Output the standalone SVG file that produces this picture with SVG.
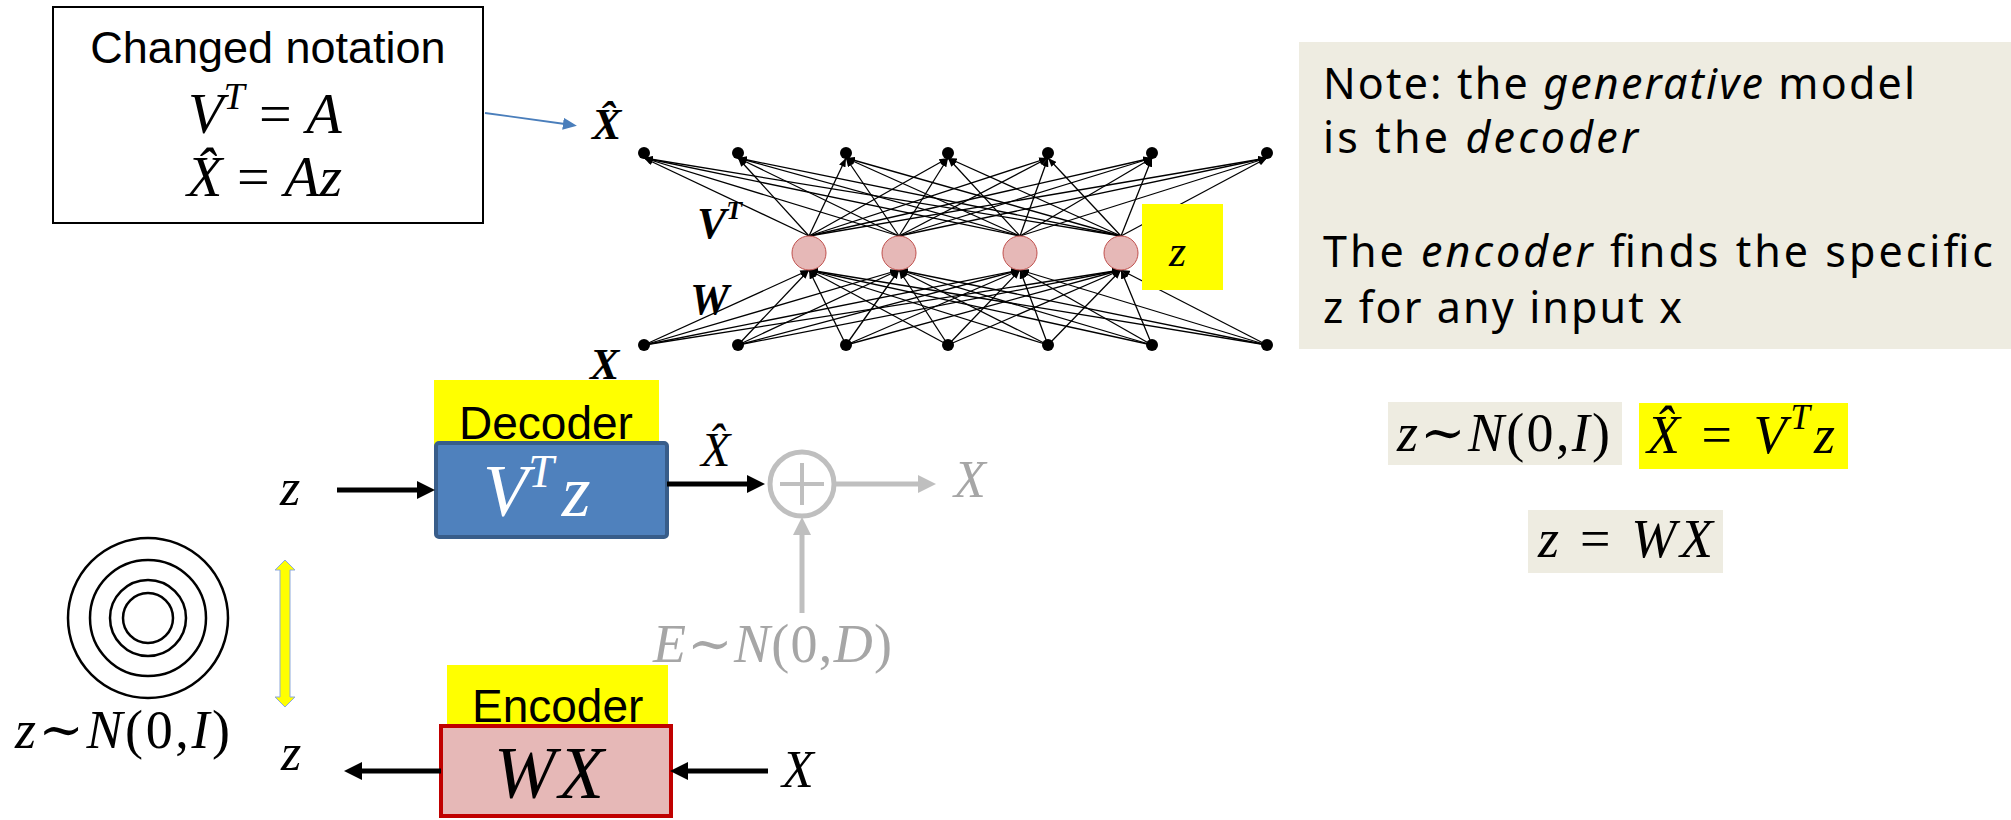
<svg xmlns="http://www.w3.org/2000/svg" width="2011" height="820" viewBox="0 0 2011 820">
<style>
.m{font-family:"Liberation Serif","DejaVu Serif",serif;font-style:italic}
.mb{font-family:"Liberation Serif","DejaVu Serif",serif;font-style:italic;font-weight:bold}
.up{font-style:normal}
.s{font-family:"Liberation Sans",Arial,sans-serif}
.n{font-family:"Noto Sans","DejaVu Sans",sans-serif;font-size:43px;fill:#000}
.net line{stroke:#000;stroke-width:1.3;marker-end:url(#sa)}
.dot{fill:#000}
.hid{fill:#e6b8b7;stroke:#c0504d;stroke-width:1}
.big{stroke:#000;stroke-width:5;marker-end:url(#ba)}
.gry{stroke:#bfbfbf;stroke-width:5;marker-end:url(#ga)}
</style>
<defs>
<marker id="sa" viewBox="0 0 10 8" refX="10" refY="4" markerWidth="9" markerHeight="7" markerUnits="userSpaceOnUse" orient="auto"><path d="M0,0 L10,4 L0,8 z" fill="#000"/></marker>
<marker id="ba" viewBox="0 0 18 18" refX="2" refY="9" markerWidth="18" markerHeight="18" markerUnits="userSpaceOnUse" orient="auto"><path d="M0,0 L18,9 L0,18 z" fill="#000"/></marker>
<marker id="ga" viewBox="0 0 18 18" refX="2" refY="9" markerWidth="18" markerHeight="18" markerUnits="userSpaceOnUse" orient="auto"><path d="M0,0 L18,9 L0,18 z" fill="#bfbfbf"/></marker>
<marker id="bl" viewBox="0 0 14 12" refX="2" refY="6" markerWidth="14" markerHeight="12" markerUnits="userSpaceOnUse" orient="auto"><path d="M0,0 L14,6 L0,12 z" fill="#4a7ebb"/></marker>
</defs>
<rect width="2011" height="820" fill="#fff"/>

<g id="notation-box">
<rect x="53" y="7" width="430" height="216" fill="#fff" stroke="#000" stroke-width="2"/>
<text class="s" x="268" y="63" font-size="45" text-anchor="middle">Changed notation</text>
<text class="m" x="188" y="133" font-size="58">V<tspan font-size="38" dy="-24">T</tspan><tspan class="up" dy="24"> = </tspan>A</text>
<text class="m" x="187" y="196" font-size="58">X&#x302;<tspan class="up"> = </tspan>Az</text>
</g>

<g id="note-box">
<rect x="1299" y="42" width="712" height="307" fill="#eeece1"/>
<text class="n" x="1323" y="99" textLength="592">Note: the <tspan font-style="italic">generative</tspan> model</text>
<text class="n" x="1323" y="153" textLength="315">is the <tspan font-style="italic">decoder</tspan></text>
<text class="n" x="1323" y="267" textLength="670">The <tspan font-style="italic">encoder</tspan> finds the specific</text>
<text class="n" x="1323" y="323" textLength="359">z for any input x</text>
</g>

<g id="eq-prior">
<rect x="1388" y="402" width="234" height="63" fill="#eeece1"/>
<text class="m" x="1397" y="451" font-size="54" textLength="213">z<tspan class="up">∼</tspan>N<tspan class="up">(0,</tspan>I<tspan class="up">)</tspan></text>
</g>
<g id="eq-decoder">
<rect x="1639" y="403" width="209" height="66" fill="#ffff00"/>
<text class="m" x="1647" y="453" font-size="54" textLength="188">X&#x302;<tspan class="up"> = </tspan>V<tspan font-size="35" dy="-24">T</tspan><tspan dy="24">z</tspan></text>
</g>
<g id="eq-encoder">
<rect x="1528" y="510" width="195" height="63" fill="#eeece1"/>
<text class="m" x="1538" y="557" font-size="54" textLength="175">z<tspan class="up"> = </tspan>WX</text>
</g>

<g id="network">
<g class="net">
<line x1="809" y1="236" x2="644" y2="158"/><line x1="809" y1="236" x2="738" y2="158"/><line x1="809" y1="236" x2="846" y2="158"/><line x1="809" y1="236" x2="948" y2="158"/><line x1="809" y1="236" x2="1048" y2="158"/><line x1="809" y1="236" x2="1152" y2="158"/><line x1="809" y1="236" x2="1267" y2="158"/>
<line x1="899" y1="236" x2="644" y2="158"/><line x1="899" y1="236" x2="738" y2="158"/><line x1="899" y1="236" x2="846" y2="158"/><line x1="899" y1="236" x2="948" y2="158"/><line x1="899" y1="236" x2="1048" y2="158"/><line x1="899" y1="236" x2="1152" y2="158"/><line x1="899" y1="236" x2="1267" y2="158"/>
<line x1="1020" y1="236" x2="644" y2="158"/><line x1="1020" y1="236" x2="738" y2="158"/><line x1="1020" y1="236" x2="846" y2="158"/><line x1="1020" y1="236" x2="948" y2="158"/><line x1="1020" y1="236" x2="1048" y2="158"/><line x1="1020" y1="236" x2="1152" y2="158"/><line x1="1020" y1="236" x2="1267" y2="158"/>
<line x1="1121" y1="236" x2="644" y2="158"/><line x1="1121" y1="236" x2="738" y2="158"/><line x1="1121" y1="236" x2="846" y2="158"/><line x1="1121" y1="236" x2="948" y2="158"/><line x1="1121" y1="236" x2="1048" y2="158"/><line x1="1121" y1="236" x2="1152" y2="158"/><line x1="1121" y1="236" x2="1267" y2="158"/>
<line x1="644" y1="345" x2="809" y2="270"/><line x1="738" y1="345" x2="809" y2="270"/><line x1="846" y1="345" x2="809" y2="270"/><line x1="948" y1="345" x2="809" y2="270"/><line x1="1048" y1="345" x2="809" y2="270"/><line x1="1152" y1="345" x2="809" y2="270"/><line x1="1267" y1="345" x2="809" y2="270"/>
<line x1="644" y1="345" x2="899" y2="270"/><line x1="738" y1="345" x2="899" y2="270"/><line x1="846" y1="345" x2="899" y2="270"/><line x1="948" y1="345" x2="899" y2="270"/><line x1="1048" y1="345" x2="899" y2="270"/><line x1="1152" y1="345" x2="899" y2="270"/><line x1="1267" y1="345" x2="899" y2="270"/>
<line x1="644" y1="345" x2="1020" y2="270"/><line x1="738" y1="345" x2="1020" y2="270"/><line x1="846" y1="345" x2="1020" y2="270"/><line x1="948" y1="345" x2="1020" y2="270"/><line x1="1048" y1="345" x2="1020" y2="270"/><line x1="1152" y1="345" x2="1020" y2="270"/><line x1="1267" y1="345" x2="1020" y2="270"/>
<line x1="644" y1="345" x2="1121" y2="270"/><line x1="738" y1="345" x2="1121" y2="270"/><line x1="846" y1="345" x2="1121" y2="270"/><line x1="948" y1="345" x2="1121" y2="270"/><line x1="1048" y1="345" x2="1121" y2="270"/><line x1="1152" y1="345" x2="1121" y2="270"/><line x1="1267" y1="345" x2="1121" y2="270"/>
</g>
<g id="out-layer">
<circle class="dot" cx="644" cy="153" r="6"/><circle class="dot" cx="738" cy="153" r="6"/><circle class="dot" cx="846" cy="153" r="6"/><circle class="dot" cx="948" cy="153" r="6"/><circle class="dot" cx="1048" cy="153" r="6"/><circle class="dot" cx="1152" cy="153" r="6"/><circle class="dot" cx="1267" cy="153" r="6"/>
</g>
<g id="in-layer">
<circle class="dot" cx="644" cy="345" r="6"/><circle class="dot" cx="738" cy="345" r="6"/><circle class="dot" cx="846" cy="345" r="6"/><circle class="dot" cx="948" cy="345" r="6"/><circle class="dot" cx="1048" cy="345" r="6"/><circle class="dot" cx="1152" cy="345" r="6"/><circle class="dot" cx="1267" cy="345" r="6"/>
</g>
<g id="hidden-layer">
<circle class="hid" cx="809" cy="253" r="17"/><circle class="hid" cx="899" cy="253" r="17"/><circle class="hid" cx="1020" cy="253" r="17"/><circle class="hid" cx="1121" cy="253" r="17"/>
</g>
<g id="z-label">
<rect x="1142" y="204" width="81" height="86" fill="#ffff00"/>
<text class="m" x="1169" y="266" font-size="44">z</text>
</g>
<text class="mb" x="592" y="139" font-size="44">X&#x302;</text>
<text class="mb" x="697" y="238" font-size="44">V<tspan font-size="26" dy="-19">T</tspan></text>
<text class="mb" x="690" y="314" font-size="44">W</text>
<text class="mb" x="590" y="379" font-size="44">X</text>
</g>

<g id="decoder">
<rect x="434" y="380" width="225" height="85" fill="#ffff00"/>
<text class="s" x="459" y="439" font-size="46">Decoder</text>
<rect x="436" y="443" width="231" height="94" rx="3" fill="#4f81bd" stroke="#385d8a" stroke-width="4"/>
<text class="m" x="483" y="516" font-size="74" fill="#fff">V<tspan font-size="46" dy="-29">T</tspan><tspan dx="8" dy="29">z</tspan></text>
</g>

<g id="encoder">
<rect x="447" y="665" width="221" height="75" fill="#ffff00"/>
<text class="s" x="472" y="722" font-size="46">Encoder</text>
<rect x="441" y="726" width="230" height="90" fill="#e6b8b7" stroke="#c00000" stroke-width="4"/>
<text class="m" x="494" y="798" font-size="74" textLength="110">WX</text>
</g>

<g id="adder">
<circle cx="802" cy="484" r="32" fill="none" stroke="#bfbfbf" stroke-width="5"/>
<line x1="780" y1="484" x2="824" y2="484" stroke="#bfbfbf" stroke-width="4"/>
<line x1="802" y1="463" x2="802" y2="505" stroke="#bfbfbf" stroke-width="4"/>
</g>

<g id="prior">
<circle cx="148" cy="618" r="80" fill="none" stroke="#000" stroke-width="2.5"/>
<circle cx="148" cy="618" r="58" fill="none" stroke="#000" stroke-width="2.5"/>
<circle cx="148" cy="618" r="38" fill="none" stroke="#000" stroke-width="2.5"/>
<circle cx="148" cy="618" r="25" fill="none" stroke="#000" stroke-width="2.5"/>
<text class="m" x="15" y="748" font-size="54" textLength="215">z<tspan class="up">∼</tspan>N<tspan class="up">(0,</tspan>I<tspan class="up">)</tspan></text>
</g>

<g id="labels">
<text class="m" x="280" y="505" font-size="52">z</text>
<text class="m" x="281" y="770" font-size="52">z</text>
<text class="m" x="782" y="787" font-size="52">X</text>
<text class="m" x="701" y="466" font-size="48">X&#x302;</text>
<text class="m" x="954" y="497" font-size="52" fill="#a6a6a6">X</text>
<text class="m" x="653" y="662" font-size="54" fill="#a6a6a6" textLength="239">E<tspan class="up">∼</tspan>N<tspan class="up">(0,</tspan>D<tspan class="up">)</tspan></text>
</g>

<g id="connectors">
<line x1="485" y1="113" x2="565" y2="124" stroke="#4a7ebb" stroke-width="1.8" marker-end="url(#bl)"/>
<line class="big" x1="337" y1="490" x2="419" y2="490"/>
<line class="big" x1="667" y1="484" x2="749" y2="484"/>
<line class="gry" x1="834" y1="484" x2="920" y2="484"/>
<line class="gry" x1="802" y1="613" x2="802" y2="533"/>
<line class="big" x1="441" y1="771" x2="360" y2="771"/>
<line class="big" x1="768" y1="771" x2="686" y2="771"/>
<polygon points="285,560 295,570 290,570 290,697 295,697 285,707 275,697 280,697 280,570 275,570" fill="#ffff00" stroke="#8ea9db" stroke-width="1"/>
</g>
</svg>
